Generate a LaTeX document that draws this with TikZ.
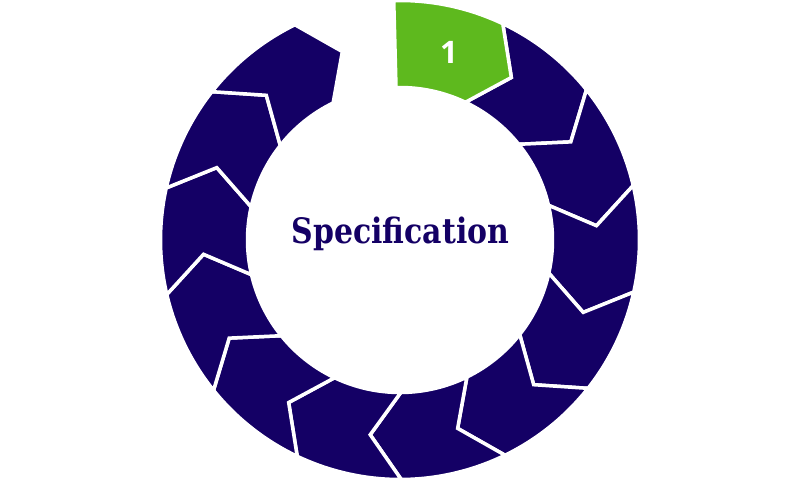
\documentclass[tikz,border=0pt]{standalone}
\usepackage{fontspec}
\newfontfamily\titlefont[FakeStretch=0.855]{DejaVu Serif}
\newfontfamily\numfont{Open Sans}
\definecolor{navy}{HTML}{140065}
\definecolor{leaf}{HTML}{5EB91E}
\begin{document}
\begin{tikzpicture}[x=1pt,y=1pt,
  seg/.style={draw=white,line width=3.5pt,line join=miter},
  navyseg/.style={seg,fill=navy},
  greenseg/.style={seg,fill=leaf}]
\useasboundingbox (0,0) rectangle (800,480);
\begin{scope}[shift={(400,240)}]
\def\Ro{239.5pt}\def\Ri{152.5pt}\def\Rm{197pt}\def\tip{9}
\foreach \k in {1,...,12}{
  \pgfmathsetmacro\A{90-(25.714*\k-0.3)}
  \pgfmathsetmacro\B{\A-25.714}
  \pgfmathsetmacro\At{\A-\tip}
  \pgfmathsetmacro\Bt{\B-\tip}
  \path[navyseg] (\A:\Ro) arc[start angle=\A, end angle=\B, radius=\Ro]
    -- (\Bt:\Rm) -- (\B:\Ri) arc[start angle=\B, end angle=\A, radius=\Ri]
    -- (\At:\Rm) -- cycle;
}
\pgfmathsetmacro\A{91.5}
\pgfmathsetmacro\B{90-25.714+0.3}
\pgfmathsetmacro\Bt{\B-\tip}
\path[greenseg] (\A:\Ro) arc[start angle=\A, end angle=\B, radius=\Ro]
  -- (\Bt:\Rm) -- (\B:\Ri) arc[start angle=\B, end angle=\A, radius=\Ri]
  -- cycle;
\end{scope}
\node[anchor=base, text=navy, inner sep=0pt, font=\titlefont\bfseries\fontsize{35}{40}\selectfont] (title) at (400.5,237) {Specification};
\node[anchor=base, text=white, inner sep=0pt, font=\numfont\bfseries\fontsize{31}{36}\selectfont] (one) at (449,416.7) {1};
\end{tikzpicture}
\end{document}
